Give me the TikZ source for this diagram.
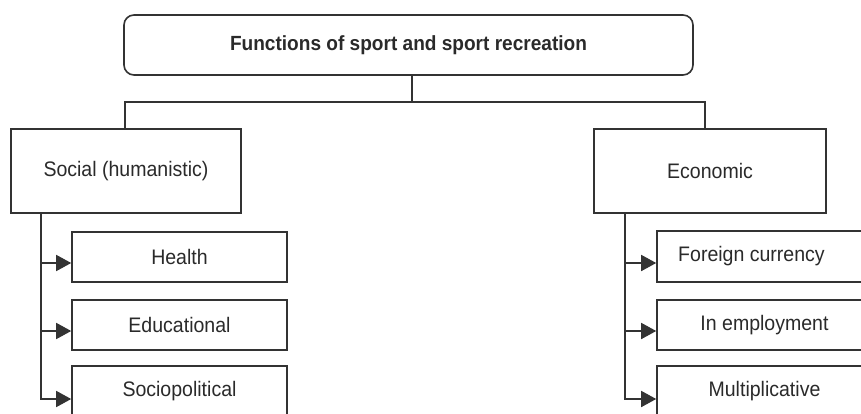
\documentclass[tikz,border=0pt]{standalone}
\usepackage{fontspec}
\setmainfont[FakeStretch=0.93]{Liberation Sans}
\usetikzlibrary{arrows.meta,calc}
\definecolor{ln}{HTML}{333333}
\definecolor{tx}{HTML}{2A2A2A}
\begin{document}
\begin{tikzpicture}[x=1pt,y=-1pt,
  box/.style={draw=ln,line width=1.6pt,inner sep=0pt,text=tx,font=\fontsize{21}{24}\selectfont},
  childbox/.style={box,minimum width=215pt,minimum height=50pt},
  conn/.style={draw=ln,line width=1.6pt},
  arr/.style={conn,-{Triangle[length=15pt,width=16pt]}}]
\useasboundingbox (0,0) rectangle (861,414);
\fill[white] (0,0) rectangle (861,414);
\node[box,rounded corners=10pt,minimum width=569pt,minimum height=60pt,font=\bfseries\fontsize{20.5}{24}\selectfont] (top) at (408.5,45) {Functions of sport and sport recreation};
\node[box,minimum width=230pt,minimum height=84pt] (soc) at (126,171) {Social (humanistic)};
\node[box,minimum width=232pt,minimum height=84pt] (eco) at (710,171) {Economic};
\node[childbox] (health) at (179.5,257) {Health};
\node[childbox] (educ) at (179.5,325) {Educational};
\node[childbox] (socio) at (179.5,391) {Sociopolitical};
\node[childbox,minimum height=51pt] (forex) at (764.5,256.5) {Foreign currency\hspace*{26pt}};
\node[childbox] (employ) at (764.5,325) {In employment};
\node[childbox] (multi) at (764.5,391) {Multiplicative};
\coordinate (jl) at (125,102);
\coordinate (jr) at (705,102);
\coordinate (bl) at (41,213);
\coordinate (br) at (625,213);
\coordinate (tj) at (412,102);
\draw[conn] (tj |- top.south) -- (tj);
\draw[conn] (jl |- soc.north) -- (jl) -- (jr) -- (jr |- eco.north);
\draw[arr] (bl) |- ($(health.west)+(0,6)$);
\draw[arr] (bl) |- ($(educ.west)+(0,6)$);
\draw[arr] (bl) |- ($(socio.west)+(0,8)$);
\draw[arr] (br) |- ($(forex.west)+(0,6.5)$);
\draw[arr] (br) |- ($(employ.west)+(0,6)$);
\draw[arr] (br) |- ($(multi.west)+(0,8)$);
\end{tikzpicture}
\end{document}
